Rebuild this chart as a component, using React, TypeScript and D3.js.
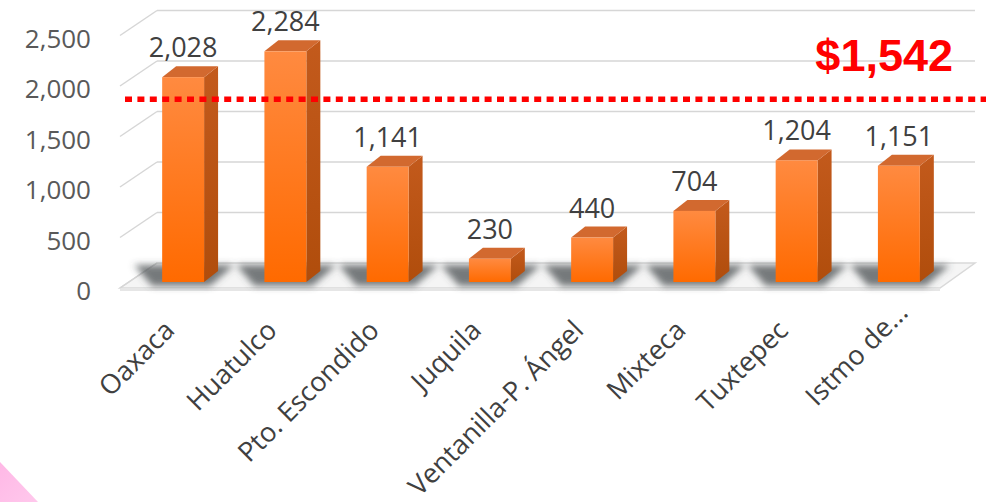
import React from "react";
import * as d3 from "d3";

const categories = ["Oaxaca", "Huatulco", "Pto. Escondido", "Juquila", "Ventanilla-P. Ángel", "Mixteca", "Tuxtepec", "Istmo de..."];
const values = [2028, 2284, 1141, 230, 440, 704, 1204, 1151];
const yTicks = [0, 500, 1000, 1500, 2000, 2500];
const refLineValue = 1810;
const refLabel = "$1,542";

const W = 990;
const H = 502;
const DX = 14; // bar depth offsets
const DY = 11;

export default function App() {
  const x = d3.scaleBand<string>().domain(categories).range([132, 950]).paddingInner(0.59).paddingOuter(0.295);
  const y = d3.scaleLinear().domain([0, 2500]).range([282, 282 - 252.5]);
  const fmt = d3.format(",");
  const bw = x.bandwidth();
  const base = y(0);
  const font = "'Open Sans', 'DejaVu Sans', sans-serif";

  const fx0 = 120, bx0 = 157, bx1 = 975, fx1 = 940;

  return (
    <svg width={W} height={H} style={{ position: "absolute", left: 0, top: 0, background: "#fff" }}>
      <defs>
        <linearGradient id="front" x1="0" y1="0" x2="0" y2="1">
          <stop offset="0" stopColor="#ff8a40" />
          <stop offset="1" stopColor="#ff6a00" />
        </linearGradient>
        <linearGradient id="side" x1="0" y1="0" x2="0" y2="1">
          <stop offset="0" stopColor="#c35a1c" />
          <stop offset="1" stopColor="#b04d0c" />
        </linearGradient>
        <linearGradient id="pink" x1="0" y1="0" x2="1" y2="1">
          <stop offset="0" stopColor="#ffb8e6" />
          <stop offset="1" stopColor="#ffc8ec" />
        </linearGradient>
        <filter id="blur" x="-50%" y="-50%" width="200%" height="200%">
          <feGaussianBlur stdDeviation="3.5" />
        </filter>
      </defs>
      <rect x={0} y={0} width={W} height={H} fill="#ffffff" />
      <polygon points="0,462 38,502 0,502" fill="url(#pink)" />

      {/* floor */}
      <polygon points={`${fx0},${base + 6} ${fx1},${base + 6} ${bx1},${base - 19} ${bx0},${base - 19}`} fill="#f5f5f5" stroke="#d9d9d9" strokeWidth={1.5} />
      <rect x={fx0} y={base + 6} width={fx1 - fx0} height={3} fill="#e6e6e6" />

      {/* gridlines */}
      {yTicks.map((t) => (
        <g key={t}>
          {t > 0 && (
            <line x1={bx0} x2={bx1} y1={y(t) - 19} y2={y(t) - 19} stroke="#d6d6d6" strokeWidth={1.5} />
          )}
          <line x1={fx0} y1={y(t) + 6} x2={bx0} y2={y(t) - 19} stroke="#d6d6d6" strokeWidth={1.5} />
          <text x={91} y={y(t) + 8} textAnchor="end" dominantBaseline="central" fontFamily={font} fontSize={26} fill="#595959">
            {fmt(t)}
          </text>
        </g>
      ))}

      {/* shadows */}
      <g filter="url(#blur)">
        {categories.map((c) => {
          const x0 = x(c)!;
          return (
            <polygon
              key={c}
              points={`${x0 - 10},${base + 4} ${x0 + bw + 6},${base + 4} ${x0 + bw + DX + 16},${base - 17} ${x0 - 28},${base - 17}`}
              fill="#4a5052"
              opacity={0.75}
            />
          );
        })}
      </g>

      {/* bars */}
      {categories.map((c, i) => {
        const x0 = x(c)!;
        const top = y(values[i]);
        return (
          <g key={c}>
            <polygon points={`${x0 + bw},${top} ${x0 + bw + DX},${top - DY} ${x0 + bw + DX},${base - DY} ${x0 + bw},${base}`} fill="url(#side)" />
            <polygon points={`${x0},${top} ${x0 + bw},${top} ${x0 + bw + DX},${top - DY} ${x0 + DX},${top - DY}`} fill="#d2692f" />
            <rect x={x0} y={top} width={bw} height={base - top} fill="url(#front)" />
            <text x={x0 + bw / 2} y={top - 20} textAnchor="middle" fontFamily={font} fontSize={27} fill="#404040">
              {fmt(values[i])}
            </text>
          </g>
        );
      })}

      {/* reference line */}
      <line x1={125} x2={986} y1={y(refLineValue)} y2={y(refLineValue)} stroke="#ff0000" strokeWidth={5.5} strokeDasharray="7 5.4" />
      <text x={953} y={71} textAnchor="end" fontFamily="'Liberation Sans', Arial, sans-serif" fontWeight="bold" fontSize={45} fill="#ff0000">
        {refLabel}
      </text>

      {/* category labels */}
      {categories.map((c) => {
        const cx = x(c)! + bw / 2 - 7;
        const cy = 332;
        const shift = c.endsWith("...") ? 25 : 0;
        return (
          <text key={c} x={cx} y={cy} dx={shift} textAnchor="end" transform={`rotate(-45 ${cx} ${cy})`} fontFamily={font} fontSize={27} fill="#404040">
            {c}
          </text>
        );
      })}
    </svg>
  );
}
